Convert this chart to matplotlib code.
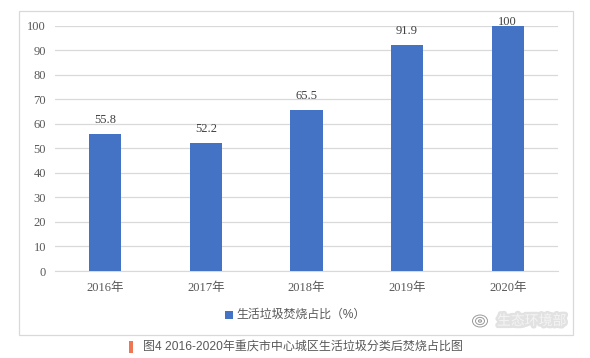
import matplotlib
matplotlib.use('Agg')
import matplotlib.pyplot as plt
from matplotlib.patches import Rectangle, Ellipse
import matplotlib.patheffects as pe

years = ['2016年', '2017年', '2018年', '2019年', '2020年']
ratio = [55.8, 52.2, 65.5, 91.9, 100]
ratio_labels = ['55.8', '52.2', '65.5', '91.9', '100']
y_ticks = [0, 10, 20, 30, 40, 50, 60, 70, 80, 90, 100]
series_name = '生活垃圾焚烧占比（%）'
caption = '图4 2016-2020年重庆市中心城区生活垃圾分类后焚烧占比图'
watermark = '生态环境部'

W, H = 590, 358
serif = ['Liberation Serif', 'Noto Sans CJK SC']
sans = ['Liberation Sans', 'Noto Sans CJK SC']
plt.rcParams['font.family'] = sans

fig = plt.figure(figsize=(W / 100, H / 100), dpi=100)

# outer frame of the chart
fig.add_artist(Rectangle((18.5 / W, 1 - 334.5 / H), 554.5 / W, 324 / H, transform=fig.transFigure,
                         fill=False, edgecolor='#d9d9d9', linewidth=0.9))

ax = fig.add_axes([55 / W, 1 - 271 / H, 503 / W, 245.5 / H])
ax.bar(years, ratio, width=0.32, color='#4472c4', zorder=3)
ax.set_xlim(-0.5, 4.5)
ax.set_ylim(0, 100)
ax.set_yticks(y_ticks)
ax.yaxis.grid(True, color='#d9d9d9', linewidth=0.9, zorder=0)
ax.set_axisbelow(True)
for s in ['top', 'left', 'right']:
    ax.spines[s].set_visible(False)
ax.spines['bottom'].set_color('#d9d9d9')
ax.tick_params(axis='both', length=0, labelsize=9, labelcolor='#595959')
ax.tick_params(axis='x', pad=8)
ax.tick_params(axis='y', pad=6.5)
for lab in ax.get_xticklabels() + ax.get_yticklabels():
    lab.set_family(serif)

for i, v in enumerate(ratio):
    off = 6 if v < 100 else -2
    ax.annotate(ratio_labels[i], xy=(i, v), xytext=(0, off), textcoords='offset points',
                ha='center', va='bottom', fontsize=9, color='#404040', family=serif, zorder=5)

# legend
fig.add_artist(Rectangle((224.5 / W, 1 - 318.5 / H), 8 / W, 8 / H, transform=fig.transFigure,
                         facecolor='#4472c4', edgecolor='none'))
fig.text(236.5 / W, 1 - 314.5 / H, series_name, fontsize=8.6, color='#595959', va='center', ha='left')

# caption
fig.add_artist(Rectangle((129 / W, 1 - 353 / H), 4 / W, 12 / H, transform=fig.transFigure,
                         facecolor='#ee7652', edgecolor='none'))
fig.text(143 / W, 1 - 346.5 / H, caption, fontsize=8.65, color='#595959', va='center', ha='left')

# watermark
fig.text(497 / W, 1 - 321 / H, watermark, fontsize=10, color='#f4f4f4', va='center', ha='left',
         path_effects=[pe.withStroke(linewidth=3.5, foreground='#e2e2e2')])
for r, lw in [(7.5, 0.7), (4.5, 0.7), (1.5, 0.8)]:
    fig.add_artist(Ellipse((480 / W, 1 - 321 / H), 2 * r / W, 1.6 * r / H,
                           transform=fig.transFigure, fill=False,
                           edgecolor='#9a9a9a', linewidth=lw))

fig.savefig('out.png', dpi=100)
